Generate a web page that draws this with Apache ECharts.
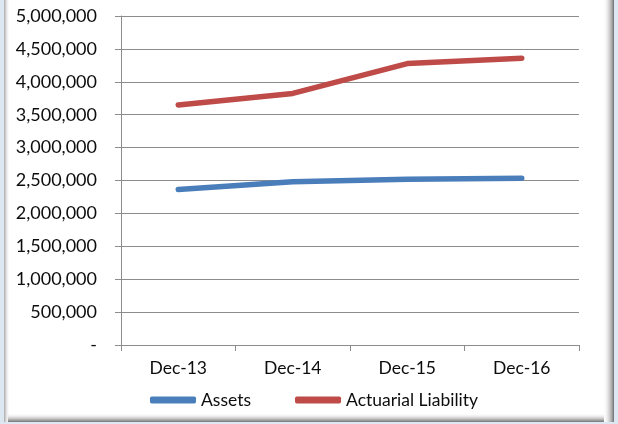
<!DOCTYPE html>
<html>
<head>
<meta charset="utf-8">
<script src="https://cdn.jsdelivr.net/npm/echarts@6/dist/echarts.min.js"></script>
<style>
  html, body { margin: 0; padding: 0; background: #ffffff; }
  #chart { width: 618px; height: 424px; }
</style>
</head>
<body>
<div id="chart"></div>
<script>
// Period-end dates
const periods = ['Dec-13', 'Dec-14', 'Dec-15', 'Dec-16'];
// Plan assets vs. actuarial liability
const assets = [2364000, 2480000, 2520000, 2535000];
const actuarialLiability = [3647000, 3823000, 4277000, 4359000];
// Value axis range
const yMin = 0;
const yMax = 5000000;
const yStep = 500000;

const FONT = 'Lato';
const GRAY = '#8c8c8c';
const INK = '#0d0d0d';

function fmt(v) {
  if (v === 0) return '-';
  return String(v).replace(/\B(?=(\d{3})+(?!\d))/g, ',');
}

const chart = echarts.init(document.getElementById('chart'), null, { renderer: 'canvas' });

chart.setOption({
  backgroundColor: '#ffffff',
  animation: false,
  textStyle: { fontFamily: FONT },
  grid: { left: 121, right: 39, top: 16, bottom: 79, containLabel: false },
  xAxis: {
    type: 'category',
    data: periods,
    boundaryGap: true,
    axisLine: { lineStyle: { color: GRAY, width: 1 } },
    axisTick: { show: true, length: 6, lineStyle: { color: GRAY } },
    axisLabel: { color: INK, fontFamily: FONT, fontSize: 17.5, margin: 14 },
    splitLine: { show: false }
  },
  yAxis: {
    type: 'value',
    min: yMin,
    max: yMax,
    interval: yStep,
    axisLine: { show: true, lineStyle: { color: GRAY, width: 1 } },
    axisTick: { show: true, length: 6, lineStyle: { color: GRAY } },
    axisLabel: { color: INK, fontFamily: FONT, fontSize: 18, margin: 24, formatter: fmt },
    splitLine: { show: true, lineStyle: { color: GRAY, width: 1 } }
  },
  legend: {
    left: 145,
    top: 386,
    padding: 5,
    itemWidth: 46,
    itemHeight: 7,
    itemGap: 44,
    icon: 'roundRect',
    textStyle: { color: INK, fontFamily: FONT, fontSize: 17.5 },
    data: ['Assets', 'Actuarial Liability']
  },
  series: [
    {
      name: 'Assets',
      type: 'line',
      data: assets,
      symbol: 'none',
      lineStyle: { color: '#4a7ebb', width: 5.5, cap: 'round', join: 'round' },
      itemStyle: { color: '#4a7ebb' }
    },
    {
      name: 'Actuarial Liability',
      type: 'line',
      data: actuarialLiability,
      symbol: 'none',
      lineStyle: { color: '#be4b48', width: 5.5, cap: 'round', join: 'round' },
      itemStyle: { color: '#be4b48' }
    }
  ],
  graphic: [
    // left edge: pale blue strip and soft gray rule
    { type: 'rect', left: 0, top: 0, shape: { width: 4, height: 424 }, style: { fill: '#dde7f2' }, silent: true },
    { type: 'rect', left: 4, top: 0, shape: { width: 6, height: 424 },
      style: { fill: new echarts.graphic.LinearGradient(0, 0, 1, 0, [
        { offset: 0, color: '#a8a8a8' }, { offset: 1, color: 'rgba(255,255,255,0)' }
      ]) }, silent: true },
    // right edge: shadow gradient
    { type: 'rect', left: 603, top: 0, shape: { width: 11, height: 424 },
      style: { fill: new echarts.graphic.LinearGradient(0, 0, 1, 0, [
        { offset: 0, color: 'rgba(255,255,255,0)' }, { offset: 0.85, color: '#9a9a9a' }, { offset: 1, color: '#6e6e6e' }
      ]) }, silent: true },
    { type: 'rect', left: 614, top: 0, shape: { width: 4, height: 424 }, style: { fill: '#dde7f2' }, silent: true },
    // bottom edge: shadow gradient
    { type: 'rect', left: 8, top: 413, shape: { width: 596, height: 9 },
      style: { fill: new echarts.graphic.LinearGradient(0, 0, 0, 1, [
        { offset: 0, color: 'rgba(255,255,255,0)' }, { offset: 0.8, color: '#a0a0a0' }, { offset: 1, color: '#767676' }
      ]) }, silent: true },
    { type: 'rect', left: 0, top: 422, shape: { width: 618, height: 2 }, style: { fill: '#dde7f2' }, silent: true }
  ]
});
</script>
</body>
</html>
